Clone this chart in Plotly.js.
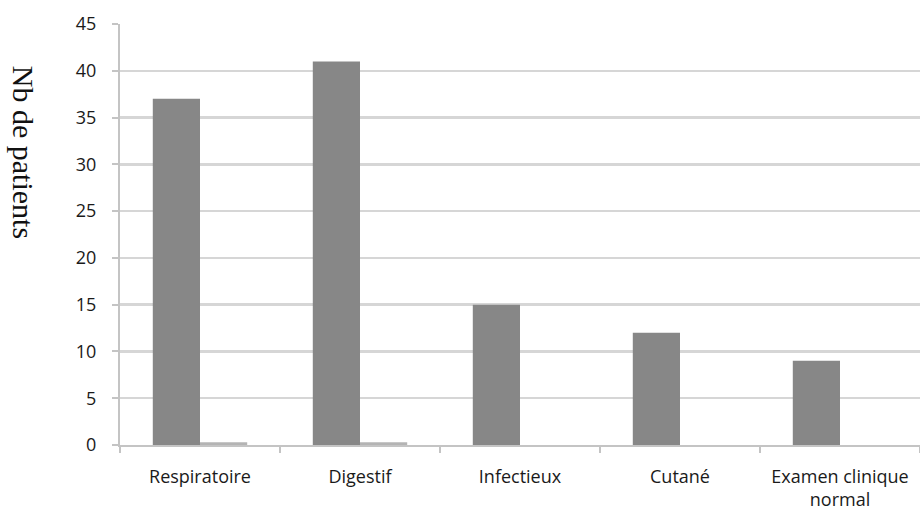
<!DOCTYPE html>
<html>
<head>
<meta charset="utf-8">
<script src="https://cdn.plot.ly/plotly-3.0.1.min.js"></script>
<style>html,body{margin:0;padding:0;background:#fff;}#chart{width:920px;height:507px;}</style>
</head>
<body>
<div id="chart"></div>
<script>
const categories = ["Respiratoire", "Digestif", "Infectieux", "Cutané", "Examen clinique<br>normal"];
const seriesMain = [37, 41, 15, 12, 9];
const seriesSecond = [0.3, 0.3, 0, 0, 0];
const yTickValues = [0, 5, 10, 15, 20, 25, 30, 35, 40, 45];
const yTitle = "Nb de patients";

const tickFont = {family: "Open Sans, sans-serif", size: 18, color: "#1a1a1a"};

const traces = [
  {type: "bar", x: categories, y: seriesMain, marker: {color: "#878787"}, hoverinfo: "skip"},
  {type: "bar", x: categories, y: seriesSecond, marker: {color: "#b4b4b4"}, hoverinfo: "skip"}
];

const layout = {
  width: 920, height: 507,
  margin: {l: 120, r: 0, t: 24, b: 62},
  paper_bgcolor: "#ffffff", plot_bgcolor: "#ffffff",
  showlegend: false,
  barmode: "group", bargap: 0.41, bargroupgap: 0,
  xaxis: {
    type: "category", tickson: "boundaries", ticks: "outside", ticklen: 6, tickwidth: 2, tickcolor: "#c4c4c4",
    showline: true, linecolor: "#c4c4c4", linewidth: 2, showgrid: false,
    tickfont: tickFont, ticklabelstandoff: 14, fixedrange: true
  },
  yaxis: {
    range: [0, 45], tickvals: yTickValues, ticktext: yTickValues.map(String),
    showgrid: true, gridcolor: "#d6d6d6", gridwidth: 2.5,
    showline: true, linecolor: "#c4c4c4", linewidth: 2,
    ticks: "outside", ticklen: 6, tickwidth: 2, tickcolor: "#c4c4c4",
    tickfont: tickFont, ticklabelstandoff: 12, zeroline: false, fixedrange: true
  },
  annotations: [{
    text: yTitle, textangle: 90, xref: "paper", yref: "paper",
    x: -0.121, y: 0.696, xanchor: "center", yanchor: "middle", showarrow: false,
    font: {family: "Liberation Serif, serif", size: 30, color: "#111111"}
  }]
};

Plotly.newPlot("chart", traces, layout, {displayModeBar: false, staticPlot: true});
</script>
</body>
</html>
